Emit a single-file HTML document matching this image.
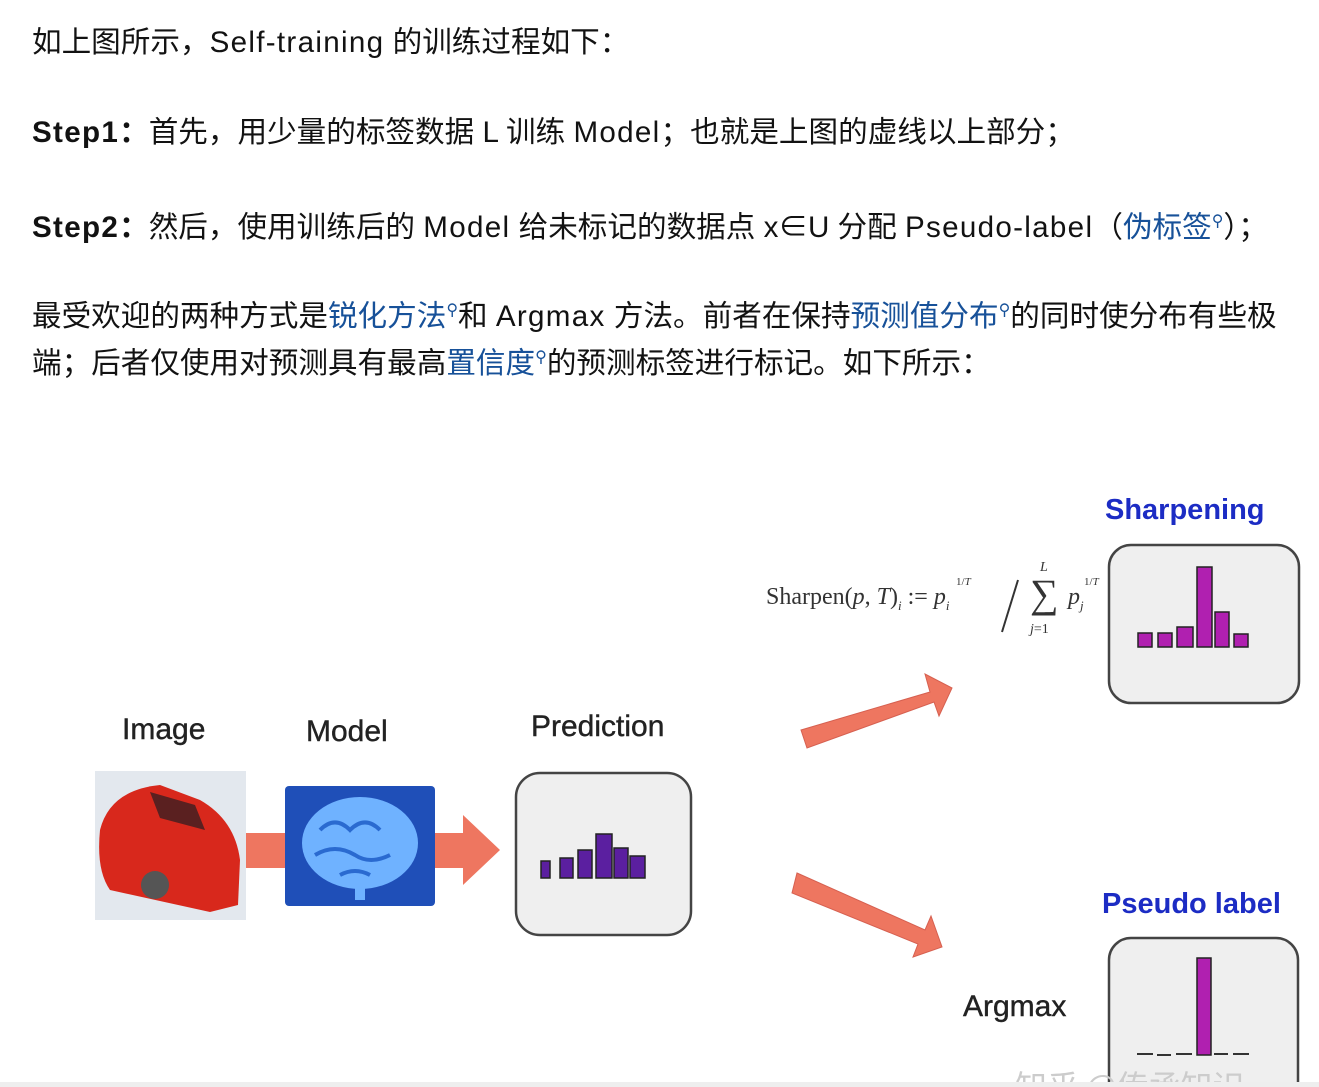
<!DOCTYPE html>
<html><head><meta charset="utf-8"><style>
body{margin:0;width:1319px;height:1087px;background:#fff;position:relative;overflow:hidden;font-family:"Liberation Sans","Noto Sans CJK SC",sans-serif;color:#121212}
.t{position:absolute;left:32px;font-size:29.6px;white-space:nowrap;line-height:36px}
.e{letter-spacing:1.3px}
.l{color:#175199}
.q{font-size:16px;vertical-align:super;color:#175199}
b{font-weight:bold}
.lab{position:absolute;font-size:30px;color:#222;white-space:nowrap;font-family:"Liberation Sans",sans-serif;-webkit-text-stroke:0.4px #222}
.blue{color:#1c2cc4;font-weight:bold;-webkit-text-stroke:0;font-size:29px}
.m{font-family:'Liberation Serif',serif;color:#333;position:absolute;white-space:nowrap}
</style></head><body>
<div class="t" style="top:25px">如上图所示，<span class="e">Self-training</span> 的训练过程如下：</div>
<div class="t" style="top:115px"><b class="e">Step1</b><b>：</b>首先，用少量的标签数据 L 训练 <span class="e">Model</span>；也就是上图的虚线以上部分；</div>
<div class="t" style="top:204px"><b class="e">Step2</b><b>：</b>然后，使用训练后的 <span class="e">Model</span> 给未标记的数据点 x∈U 分配 <span class="e">Pseudo-label</span>（<span class="l">伪标签</span><span class="q">⚲</span>）；</div>
<div class="t" style="top:293px">最受欢迎的两种方式是<span class="l">锐化方法</span><span class="q">⚲</span>和 <span class="e">Argmax</span> 方法。前者在保持<span class="l">预测值分布</span><span class="q">⚲</span>的同时使分布有些极</div>
<div class="t" style="top:340px">端；后者仅使用对预测具有最高<span class="l">置信度</span><span class="q">⚲</span>的预测标签进行标记。如下所示：</div>

<div class="lab" style="left:122px;top:713px">Image</div>
<div class="lab" style="left:306px;top:715px">Model</div>
<div class="lab" style="left:531px;top:710px">Prediction</div>
<div class="lab blue" style="left:1105px;top:494px">Sharpening</div>
<div class="lab blue" style="left:1102px;top:888px">Pseudo label</div>
<div class="lab" style="left:963px;top:990px">Argmax</div>

<div class="m" style="left:766px;top:584px;font-size:24px">Sharpen(<i>p</i>, <i>T</i>)<sub style="font-size:13px"><i>i</i></sub> := <i>p</i><sub style="font-size:13px"><i>i</i></sub></div>
<div class="m" style="left:956px;top:576px;font-size:11px">1/<i>T</i></div>
<div class="m" style="left:1040px;top:560px;font-size:14px"><i>L</i></div>
<div class="m" style="left:1030px;top:572px;font-size:40px;line-height:44px">∑</div>
<div class="m" style="left:1068px;top:584px;font-size:24px"><i>p</i><sub style="font-size:13px"><i>j</i></sub></div>
<div class="m" style="left:1084px;top:576px;font-size:11px">1/<i>T</i></div>
<div class="m" style="left:1030px;top:622px;font-size:14px"><i>j</i>=1</div>

<svg width="1319" height="1087" style="position:absolute;left:0;top:0">
<line x1="1018" y1="580" x2="1002" y2="632" stroke="#333" stroke-width="2"/>
<rect x="95" y="771" width="151" height="149" fill="#e3e8ee"/>
<path d="M100 830 Q110 790 160 785 L200 800 Q235 820 240 860 L238 905 L210 912 L110 890 Q96 870 100 830Z" fill="#d8281c"/>
<path d="M150 792 L195 805 L205 830 L160 818Z" fill="#5a2020"/>
<circle cx="155" cy="885" r="14" fill="#555"/>
<rect x="246" y="833" width="40" height="35" fill="#ee7660"/>
<polygon points="435,833 463,833 463,815 500,850 463,885 463,868 435,868" fill="#ee7660"/>
<rect x="285" y="786" width="150" height="120" rx="4" fill="#1f4fb8"/>
<ellipse cx="360" cy="843" rx="58" ry="46" fill="#6fb2ff"/>
<path d="M320 830 q15 -15 30 0 q15 -15 30 0 M315 855 q20 -12 40 0 q15 10 35 0 M340 875 q15 -8 30 0" stroke="#2a6ad0" stroke-width="4" fill="none"/>
<rect x="355" y="885" width="10" height="15" fill="#6fb2ff"/>
<rect x="516" y="773" width="175" height="162" rx="24" fill="#efefef" stroke="#444" stroke-width="2.5"/>
<g fill="#5b1fa0" stroke="#222" stroke-width="1.5">
<rect x="541" y="861" width="9" height="17"/><rect x="560" y="858" width="13" height="20"/><rect x="578" y="850" width="14" height="28"/><rect x="596" y="834" width="16" height="44"/><rect x="614" y="848" width="14" height="30"/><rect x="630" y="856" width="15" height="22"/></g>
<polygon points="801,730 930,692 925,674 952,688 939,716 934,702 807,748" fill="#ee7660" stroke="#d66050" stroke-width="1"/>
<polygon points="797,873 925,930 931,916 942,947 913,957 918,944 792,893" fill="#ee7660" stroke="#d66050" stroke-width="1"/>
<rect x="1109" y="545" width="190" height="158" rx="22" fill="#efefef" stroke="#444" stroke-width="2.5"/>
<g fill="#b020b0" stroke="#222" stroke-width="1.5">
<rect x="1138" y="633" width="14" height="14"/><rect x="1158" y="633" width="14" height="14"/><rect x="1177" y="627" width="16" height="20"/><rect x="1197" y="567" width="15" height="80"/><rect x="1215" y="612" width="14" height="35"/><rect x="1234" y="634" width="14" height="13"/></g>
<rect x="1109" y="938" width="189" height="170" rx="22" fill="#efefef" stroke="#444" stroke-width="2.5"/>
<rect x="1197" y="958" width="14" height="97" fill="#b020b0" stroke="#222" stroke-width="1.5"/>
<path d="M1137 1054 h16 M1157 1055 h14 M1176 1054 h16 M1214 1054 h14 M1233 1054 h16" stroke="#333" stroke-width="2"/>
<text x="1015" y="1098" font-size="32" fill="#ccc" font-family="Noto Sans CJK SC, sans-serif">知乎 @传承知识</text>
<rect x="0" y="1082" width="1319" height="5" fill="#eeeeee"/>
</svg>
</body></html>
